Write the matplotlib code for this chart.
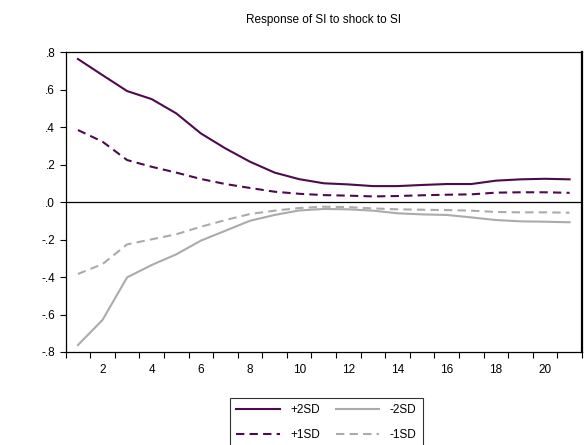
import matplotlib
matplotlib.use('Agg')
import matplotlib.pyplot as plt
from matplotlib.ticker import FixedLocator, FuncFormatter

plt.rcParams['font.family'] = ['Liberation Sans', 'DejaVu Sans']

periods = list(range(1, 22))
plus2 = [0.763, 0.677, 0.592, 0.549, 0.473, 0.366, 0.286, 0.215, 0.157, 0.122, 0.100,
         0.094, 0.085, 0.085, 0.091, 0.096, 0.096, 0.114, 0.121, 0.124, 0.121]
plus1 = [0.384, 0.322, 0.224, 0.188, 0.157, 0.123, 0.096, 0.075, 0.055, 0.044, 0.037,
         0.034, 0.030, 0.032, 0.036, 0.039, 0.041, 0.050, 0.052, 0.052, 0.049]
minus1 = [-0.384, -0.331, -0.226, -0.199, -0.172, -0.132, -0.096, -0.064, -0.046, -0.032, -0.025,
          -0.027, -0.034, -0.039, -0.041, -0.043, -0.046, -0.053, -0.055, -0.055, -0.057]
minus2 = [-0.763, -0.629, -0.402, -0.336, -0.279, -0.206, -0.153, -0.100, -0.069, -0.045, -0.037,
          -0.039, -0.046, -0.060, -0.066, -0.069, -0.082, -0.096, -0.103, -0.105, -0.108]

purple = '#4d0a4d'
gray = '#ababab'

fig = plt.figure(figsize=(5.86, 4.45), dpi=100)
ax = fig.add_axes([0.112, 0.209, 0.881, 0.674])

ax.axhline(0, color='black', lw=0.9)
ax.plot(periods, plus2, color=purple, lw=1.5, label='+2SD')
ax.plot(periods, plus1, color=purple, lw=1.5, ls=(0, (4, 2.5)), label='+1SD')
ax.plot(periods, minus2, color=gray, lw=1.5, label='-2SD')
ax.plot(periods, minus1, color=gray, lw=1.5, ls=(0, (4, 2.5)), label='-1SD')

ax.set_xlim(0.5, 21.5)
ax.set_ylim(-0.8, 0.8)
ax.set_title('Response of SI to shock to SI', fontsize=8.5, pad=21)

# x ticks at period boundaries, labels at even periods
ax.xaxis.set_major_locator(FixedLocator(range(2, 21, 2)))
ax.xaxis.set_minor_locator(FixedLocator([p + 0.5 for p in range(0, 22)]))
ax.tick_params(axis='x', which='major', length=0, labelsize=8.5, pad=9)
ax.tick_params(axis='x', which='minor', length=4, width=0.8, direction='out')

ax.set_yticks([-0.8, -0.6, -0.4, -0.2, 0.0, 0.2, 0.4, 0.6, 0.8])
ax.yaxis.set_major_formatter(FuncFormatter(lambda v, p: ('%.1f' % v).replace('0.', '.')))
ax.tick_params(axis='y', labelsize=8.5, length=4, width=0.8, direction='out')

for s in ax.spines.values():
    s.set_linewidth(0.9)
ax.spines['right'].set_linewidth(1.6)

h, l = ax.get_legend_handles_labels()
leg = fig.legend(h, l, ncol=2,
                 loc='upper center', bbox_to_anchor=(0.557, 0.106),
                 fontsize=8.5, frameon=True, fancybox=False, edgecolor='black',
                 handlelength=3.7, handletextpad=0.9, columnspacing=1.3,
                 labelspacing=1.1, borderpad=0.55, borderaxespad=0)
leg.get_frame().set_linewidth(0.8)

fig.savefig('out.png', dpi=100)
